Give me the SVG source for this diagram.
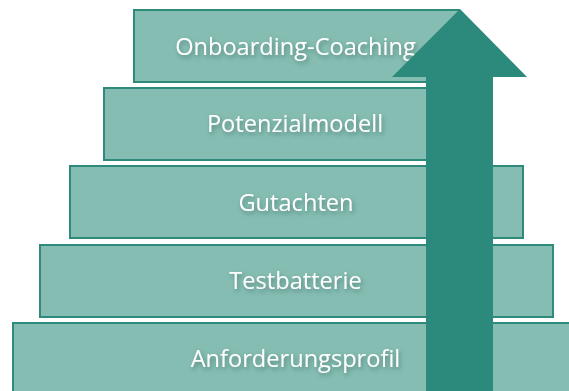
<svg xmlns="http://www.w3.org/2000/svg" width="569" height="391" viewBox="0 0 569 391">
  <defs>
    <filter id="ts" x="-20%" y="-50%" width="140%" height="200%">
      <feDropShadow dx="1.5" dy="2.5" stdDeviation="2" flood-color="#1E4F47" flood-opacity="0.5"/>
    </filter>
  </defs>
  <style>
    .box { fill: #86BDB3; stroke: #2E8B7C; stroke-width: 2; }
    .lbl { font-family: "Open Sans", "DejaVu Sans", sans-serif; font-size: 23.6px; fill: #FFFFFF; text-anchor: middle; filter: url(#ts); }
    .arrow { fill: #2B8A7B; }
  </style>
  <rect width="569" height="391" fill="#FFFFFF"/>
  <g id="anforderungsprofil">
    <rect class="box" x="13" y="323" width="570" height="74"/>
    <text class="lbl" x="295.5" y="367">Anforderungsprofil</text>
  </g>
  <g id="testbatterie">
    <rect class="box" x="40" y="245" width="513" height="72"/>
    <text class="lbl" x="295.5" y="289">Testbatterie</text>
  </g>
  <g id="gutachten">
    <rect class="box" x="70" y="166" width="453" height="72"/>
    <text class="lbl" x="296" y="210.5">Gutachten</text>
  </g>
  <g id="potenzialmodell">
    <rect class="box" x="104" y="88" width="385" height="72"/>
    <text class="lbl" x="295" y="132">Potenzialmodell</text>
  </g>
  <g id="onboarding-coaching">
    <rect class="box" x="134" y="10" width="325" height="72"/>
    <text class="lbl" x="295.5" y="54.5">Onboarding-Coaching</text>
  </g>
  <g id="connectors">
    <polygon class="arrow" points="460,9 527,77 493,77 493,395 426,395 426,77 392,77"/>
  </g>
</svg>
